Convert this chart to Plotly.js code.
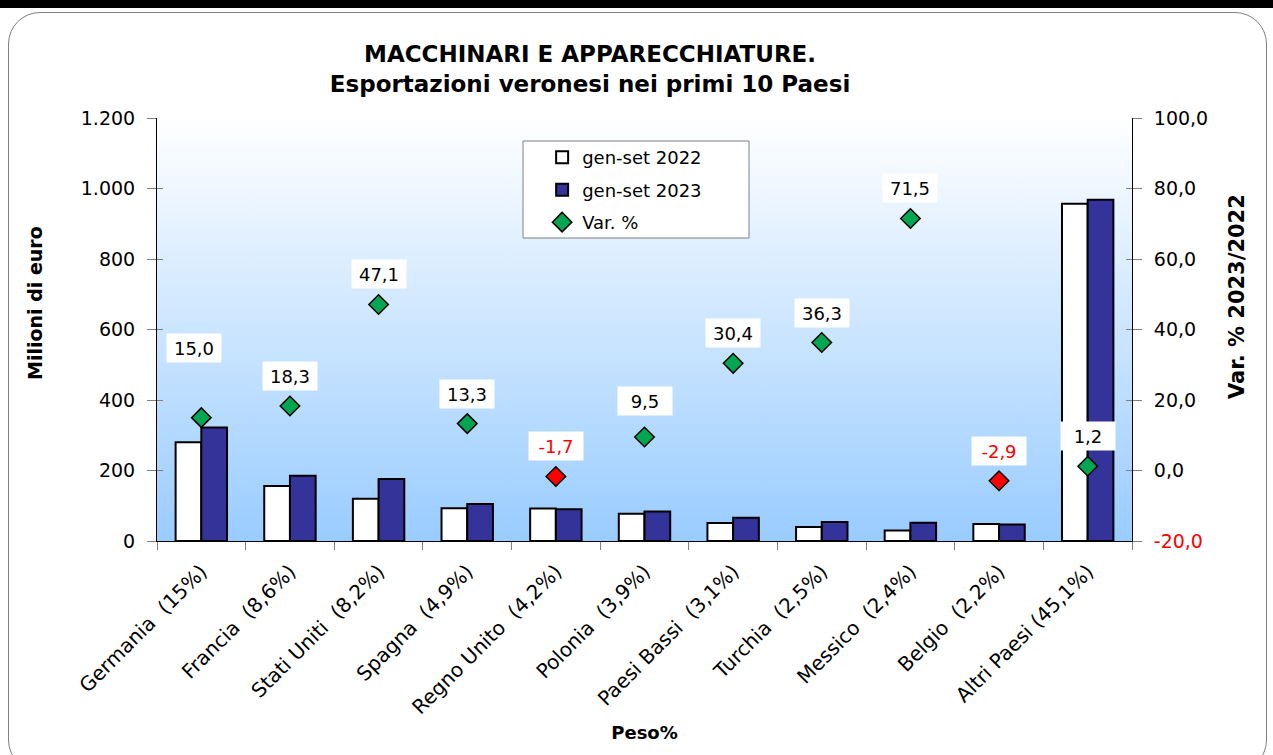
<!DOCTYPE html>
<html>
<head>
<meta charset="utf-8">
<script src="https://cdn.plot.ly/plotly-3.0.1.min.js"></script>
<style>
  html, body { margin:0; padding:0; background:#ffffff; }
  #wrap { position:relative; width:1273px; height:755px; overflow:hidden; background:#ffffff; }
  #topbar { position:absolute; left:0; top:0; width:1273px; height:8px; background:#000; }
  #frame { position:absolute; left:8px; top:12px; width:1259px; height:760px; border:1.5px solid #808080; border-radius:32px; background:#fff; box-sizing:border-box; }
  #grad { position:absolute; background:linear-gradient(to bottom, #ffffff 0%, #99ccff 100%); }
  #chart { position:absolute; left:0; top:0; width:1273px; height:755px; }
</style>
</head>
<body>
<div id="wrap">
  <div id="topbar"></div>
  <div id="frame"></div>
  <div id="grad"></div>
  <div id="chart"></div>
</div>
<script>
// ---- data ----
const paesi = ["Germania", "Francia", "Stati Uniti", "Spagna", "Regno Unito", "Polonia",
               "Paesi Bassi", "Turchia", "Messico", "Belgio", "Altri Paesi"];
const peso = ["15", "8,6", "8,2", "4,9", "4,2", "3,9", "3,1", "2,5", "2,4", "2,2", "45,1"];
const val2022 = [280, 156, 120, 93, 92, 77, 51, 40, 30, 48, 957];
const val2023 = [322, 185, 176, 105, 90, 84, 66, 54, 52, 47, 968];
const varPct = [15.0, 18.3, 47.1, 13.3, -1.7, 9.5, 30.4, 36.3, 71.5, -2.9, 1.2];
const leftTicks = [0, 200, 400, 600, 800, 1000, 1200];
const rightTicks = [-20, 0, 20, 40, 60, 80, 100];

// label offsets (px above marker) – layout only
const labelShift = [70, 30, 30, 30, 30, 36, 30, 30, 30, 30, 30];
const labelXShift = [-7, 0, 0, 0, 0, 0, 0, 0, 0, 0, 0];

const FONT = "DejaVu Sans, Verdana, sans-serif";
const cats = paesi.map((p, i) => p === "Altri Paesi" ? p + " (" + peso[i] + "%)" : p + "\u00a0 (" + peso[i] + "%)");
const fmt = v => v.toFixed(1).replace(".", ",");
const GREEN = "#00a651", RED = "#ff0000";

const traces = [
  { type: "bar", name: "gen-set 2022", x: cats, y: val2022,
    marker: { color: "#ffffff", line: { color: "#000000", width: 2 } },
    legendgroup: "a", hoverinfo: "skip" },
  { type: "bar", name: "gen-set 2023", x: cats, y: val2023,
    marker: { color: "#333399", line: { color: "#000000", width: 2 } },
    legendgroup: "b", hoverinfo: "skip" },
  { type: "scatter", mode: "markers", name: "Var. %", x: cats, y: varPct, yaxis: "y2",
    marker: { symbol: "diamond", size: 15, color: varPct.map(v => v < 0 ? RED : GREEN),
              line: { color: "#000000", width: 1.5 } },
    legendgroup: "c", hoverinfo: "skip" }
];

const annotations = varPct.map((v, i) => ({
  x: cats[i], y: v, xref: "x", yref: "y2", showarrow: false,
  text: fmt(v), yshift: labelShift[i], xshift: labelXShift[i],
  font: { family: FONT, size: 18, color: v < 0 ? RED : "#000000" },
  bgcolor: "#ffffff", borderpad: 5, width: 44, height: 18
}));
annotations.push({
  xref: "paper", yref: "paper", x: (35 - 157) / 975, y: (541 - 303) / 423,
  text: "<b>Milioni di euro</b>", textangle: -90, showarrow: false,
  font: { family: FONT, size: 19, color: "#000" }, xanchor: "center", yanchor: "middle"
});
annotations.push({
  xref: "paper", yref: "paper", x: (1237 - 157) / 975, y: (541 - 297) / 423,
  text: "<b>Var. % 2023/2022</b>", textangle: -90, showarrow: false,
  font: { family: FONT, size: 21, color: "#000" }, xanchor: "center", yanchor: "middle"
});

const layout = {
  width: 1273, height: 755,
  margin: { l: 157, r: 141, t: 118, b: 214 },
  paper_bgcolor: "rgba(0,0,0,0)", plot_bgcolor: "rgba(0,0,0,0)",
  separators: ",.",
  font: { family: FONT, size: 18, color: "#000000" },
  title: { text: "<b>MACCHINARI E APPARECCHIATURE.<br>Esportazioni veronesi nei primi 10 Paesi</b>",
           font: { family: FONT, size: 23, color: "#000000" },
           x: 0.4635, xanchor: "center", y: 1 - 62 / 755, yanchor: "top" },
  barmode: "group", bargap: 0.42, bargroupgap: 0,
  showlegend: true,
  legend: { x: 0.395, y: 0.95, xanchor: "left", yanchor: "top",
            bgcolor: "rgba(0,0,0,0)", borderwidth: 0, traceorder: "grouped",
            tracegroupgap: 6, font: { family: FONT, size: 18, color: "#000" } },
  xaxis: { type: "category", range: [-0.5, paesi.length - 0.5], tickangle: -45, tickson: "boundaries",
           ticks: "outside", ticklen: 8, tickcolor: "#808080", ticklabelstandoff: 10,
           showline: true, linecolor: "#000000", linewidth: 1, showgrid: false,
           tickfont: { family: FONT, size: 20, color: "#000" },
           title: { text: "<b>Peso%</b>", font: { family: FONT, size: 18, color: "#000" }, standoff: 8 } },
  yaxis: { range: [0, 1200], tickvals: leftTicks, tickformat: ",",
           ticks: "outside", ticklen: 9, tickcolor: "#808080", ticklabelstandoff: 8,
           showline: true, linecolor: "#000000", linewidth: 1, showgrid: false, zeroline: false,
           tickfont: { family: FONT, size: 19, color: "#000" } },
  yaxis2: { range: [-20, 100], overlaying: "y", side: "right", tickvals: rightTicks,
            ticktext: rightTicks.map(v => v < 0 ? '<span style="color:#ff0000">' + fmt(v) + '</span>' : fmt(v)),
            ticks: "outside", ticklen: 9, tickcolor: "#808080", ticklabelstandoff: 8,
            showline: true, linecolor: "#000000", linewidth: 1, showgrid: false, zeroline: false,
            tickfont: { family: FONT, size: 19, color: "#000" } },
  yaxis3: { range: [0, 1200], overlaying: "y", side: "left", tickvals: leftTicks,
            ticks: "inside", ticklen: 6, tickcolor: "#808080", showticklabels: false,
            showline: false, showgrid: false, zeroline: false },
  yaxis4: { range: [-20, 100], overlaying: "y", side: "right", tickvals: rightTicks,
            ticks: "inside", ticklen: 6, tickcolor: "#808080", showticklabels: false,
            showline: false, showgrid: false, zeroline: false },
  shapes: [
    { type: "rect", xref: "paper", yref: "paper", layer: "below",
      x0: (523 - 157) / 975, x1: (749 - 157) / 975, y0: (541 - 238) / 423, y1: (541 - 141) / 423,
      fillcolor: "#ffffff", line: { color: "#808080", width: 1 } }
  ],
  annotations: annotations
};

// invisible helper traces so the cross-tick axes are drawn
traces.push({ type: "scatter", x: [cats[0]], y: [0], yaxis: "y3", mode: "markers",
              marker: { opacity: 0 }, showlegend: false, hoverinfo: "skip" });
traces.push({ type: "scatter", x: [cats[0]], y: [0], yaxis: "y4", mode: "markers",
              marker: { opacity: 0 }, showlegend: false, hoverinfo: "skip" });

Plotly.newPlot("chart", traces, layout, { staticPlot: true }).then(gd => {
  const s = gd._fullLayout._size;
  const g = document.getElementById("grad");
  g.style.left = s.l + "px"; g.style.top = s.t + "px";
  g.style.width = s.w + "px"; g.style.height = s.h + "px";
});
</script>
</body>
</html>
